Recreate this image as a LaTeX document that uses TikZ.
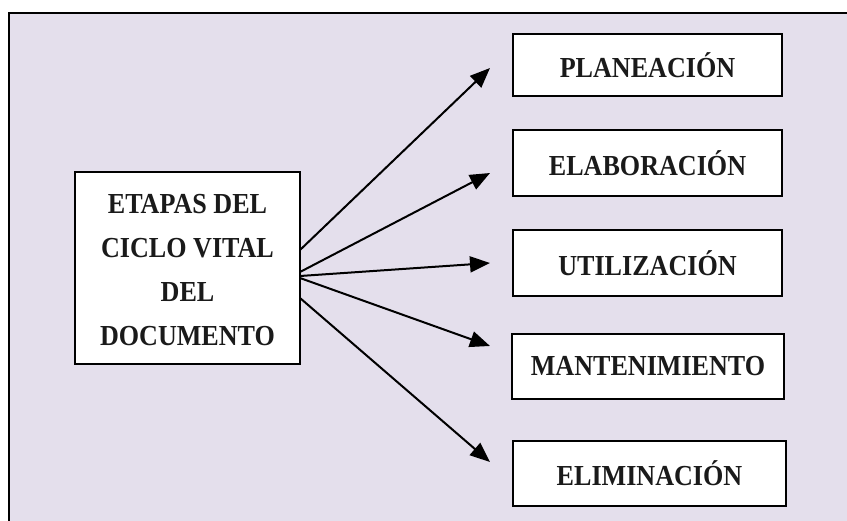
\documentclass[tikz,border=0pt]{standalone}
\usepackage{fontspec}
\usetikzlibrary{arrows.meta}
\newfontfamily\decofont[FakeStretch=0.9]{Liberation Serif Bold}
\definecolor{lav}{HTML}{E4DFEC}
\definecolor{txt}{HTML}{1A1A1A}
\tikzset{
  box/.style={draw=black, line width=2pt, fill=white, inner sep=0pt},
  lbl/.style={font=\decofont\fontsize{29}{44}\selectfont, text=txt, align=center},
  arr/.style={line width=2pt, -{Triangle[length=20pt,width=16pt]}}
}
\begin{document}
\begin{tikzpicture}[x=1pt,y=-1pt]
\useasboundingbox (0,0) rectangle (847,520);
\fill[white] (0,0) rectangle (847,520);
\draw[line width=2pt, fill=lav] (8.5,12.5) rectangle (860,530);
% left box
\node[box, minimum width=225pt, minimum height=192pt] (L) at (187.5,268) {};
\node[lbl] (Lt) at (187.5,270) {ETAPAS DEL\\CICLO VITAL\\DEL\\DOCUMENTO};
% right boxes
\node[box, minimum width=269pt, minimum height=62pt] (B1) at (647.5,65) {};
\node[lbl] at (B1) {PLANEACIÓN};
\node[box, minimum width=269pt, minimum height=66pt] (B2) at (647.5,163) {};
\node[lbl] at (B2) {ELABORACIÓN};
\node[box, minimum width=269pt, minimum height=66pt] (B3) at (647.5,263) {};
\node[lbl] at (B3) {UTILIZACIÓN};
\node[box, minimum width=272pt, minimum height=65pt] (B4) at (648,366.5) {};
\node[lbl] at (B4) {MANTENIMIENTO};
\node[box, minimum width=273pt, minimum height=65pt] (B5) at (649.5,473.5) {};
\node[lbl] at (B5) {ELIMINACIÓN};
% arrow start/end points
\coordinate (s1) at (300,250);
\coordinate (s2) at (300,272);
\coordinate (s3) at (300,276);
\coordinate (s4) at (300,278);
\coordinate (s5) at (300,298);
\coordinate (e1) at (490,68);
\coordinate (e2) at (490,173);
\coordinate (e3) at (490,263);
\coordinate (e4) at (490,346);
\coordinate (e5) at (490,462);
\draw[arr] (s1) -- (e1);
\draw[arr] (s2) -- (e2);
\draw[arr] (s3) -- (e3);
\draw[arr] (s4) -- (e4);
\draw[arr] (s5) -- (e5);
\end{tikzpicture}
\end{document}
